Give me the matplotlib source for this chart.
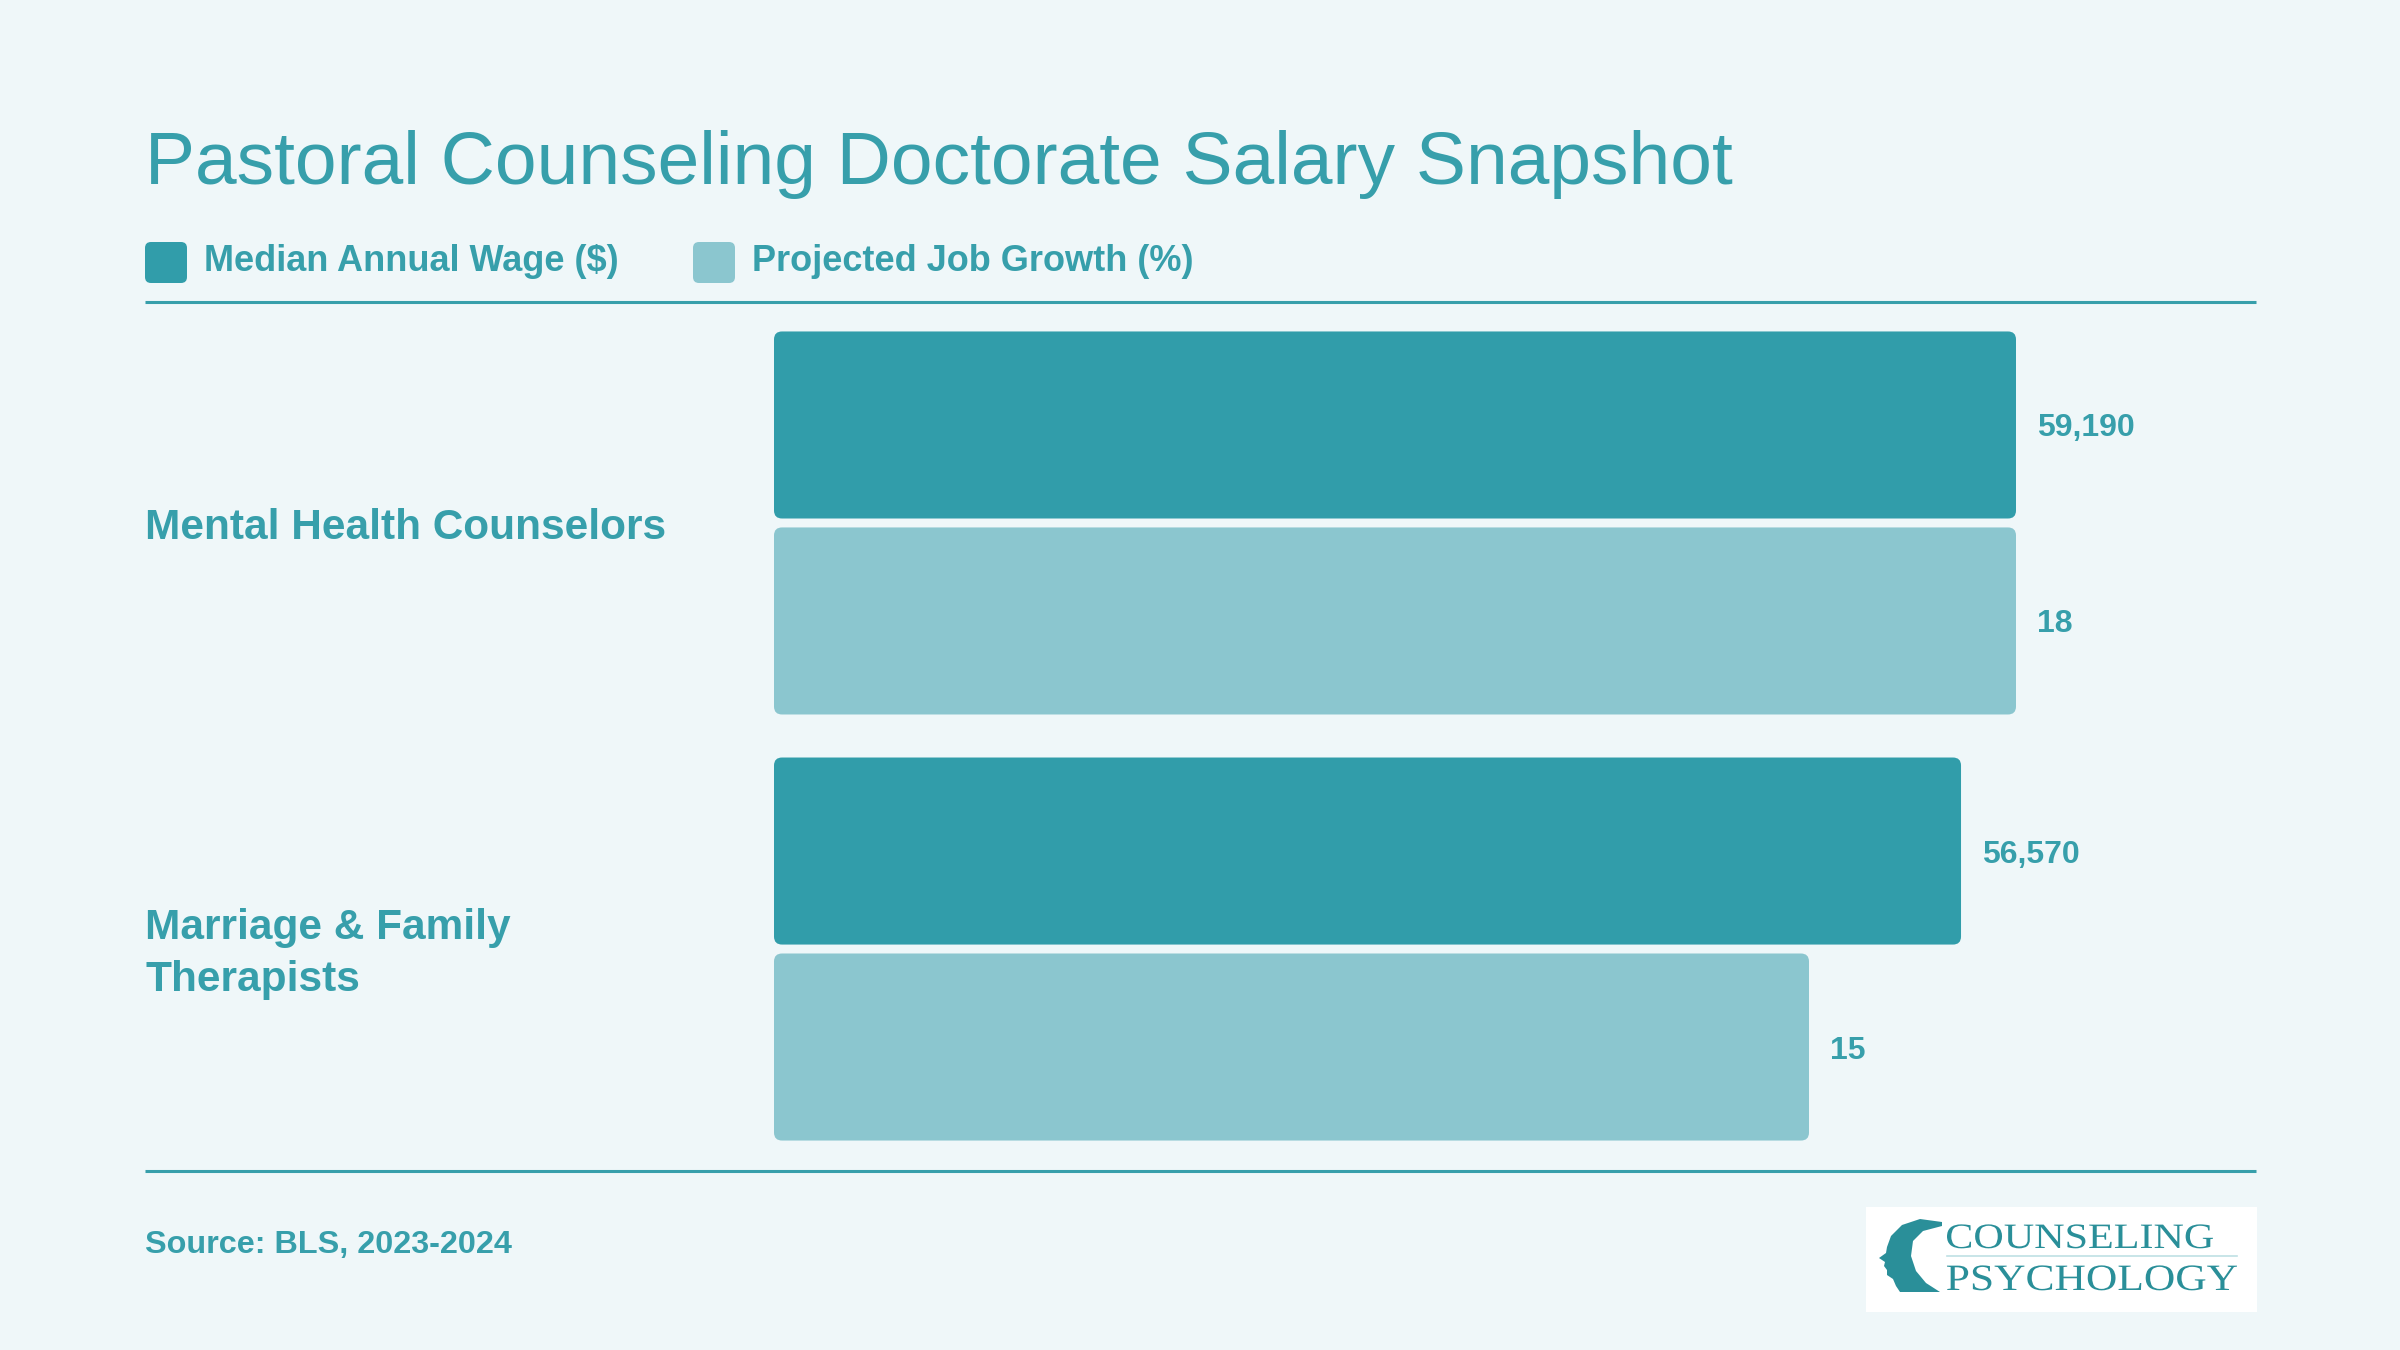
import matplotlib.pyplot as plt
from matplotlib.patches import FancyBboxPatch, Polygon, PathPatch
from matplotlib.textpath import TextPath
from matplotlib.font_manager import FontProperties
from matplotlib import transforms

plt.rcParams['font.family'] = ['Liberation Sans', 'DejaVu Sans']

# chart data
categories = ["Mental Health Counselors", "Marriage & Family\nTherapists"]
series_names = ["Median Annual Wage ($)", "Projected Job Growth (%)"]
wage = [59190, 56570]
growth = [18, 15]
title = "Pastoral Counseling Doctorate Salary Snapshot"
source = "Source: BLS, 2023-2024"

# colours
bg = "#EFF7F9"
teal = "#319DAA"
light = "#8BC6CF"
txt = "#379FAB"
colors = [teal, light]

fig = plt.figure(figsize=(24, 13.5), dpi=100, facecolor=bg)

# background axes in pixel units for title, legend, rules, footer
ax_bg = fig.add_axes([0, 0, 1, 1])
ax_bg.set_xlim(0, 2400)
ax_bg.set_ylim(1350, 0)
ax_bg.axis("off")
ax_bg.set_facecolor(bg)

ax_bg.text(145, 184, title, fontsize=54, color=txt, va="baseline", ha="left")

# legend
leg_x = [145, 693]
for i, name in enumerate(series_names):
    ax_bg.add_patch(FancyBboxPatch((leg_x[i], 242), 42, 41,
                                   boxstyle="round,pad=0,rounding_size=6",
                                   fc=colors[i], ec="none"))
    ax_bg.text(leg_x[i] + 59, 271, name, fontsize=26, fontweight="bold",
               color=txt, va="baseline", ha="left")

# rules
ax_bg.plot([145, 2256], [301.5, 301.5], color=txt, lw=2.2, solid_capstyle="butt")
ax_bg.plot([145, 2256], [1171, 1171], color=txt, lw=2.2, solid_capstyle="butt")

ax_bg.text(145, 1253, source, fontsize=23.3, fontweight="bold", color=txt,
           va="baseline", ha="left")

# logo box
ax_bg.add_patch(plt.Rectangle((1866, 1207), 391, 105, fc="white", ec="none"))
logo_c = "#2A8F99"
head = [(1942, 1222), (1920, 1219), (1902, 1225), (1891, 1236), (1887, 1247),
        (1886, 1253), (1879, 1258), (1885, 1262), (1884, 1266), (1887, 1270),
        (1887, 1275), (1893, 1279), (1896, 1286), (1900, 1292), (1940, 1292),
        (1926, 1283), (1916, 1271), (1911, 1256), (1913, 1241), (1923, 1231),
        (1942, 1226)]
ax_bg.add_patch(Polygon(head, closed=True, fc=logo_c, ec="none"))


def logo_word(word, x0, x1, cap_top, baseline):
    # stretch serif text to fill the box width
    tp = TextPath((0, 0), word, size=100, prop=FontProperties(family="Liberation Serif"))
    ext = tp.get_extents()
    sx = (x1 - x0) / ext.width
    sy = (baseline - cap_top) / ext.height
    tr = transforms.Affine2D().translate(-ext.x0, 0).scale(sx, -sy).translate(x0, baseline)
    ax_bg.add_patch(PathPatch(tp, transform=tr + ax_bg.transData, fc=logo_c, ec="none"))


logo_word("COUNSELING", 1947, 2213, 1224, 1248)
ax_bg.plot([1947, 2237], [1256, 1256], color="#BFE0E4", lw=1.2)
logo_word("PSYCHOLOGY", 1947, 2237, 1265, 1290)

# bar axes: x is fraction of each series' max
ax = fig.add_axes([774 / 2400, (1350 - 1171) / 1350, 1242 / 2400, 870 / 1350])
ax.set_xlim(0, 1)
ax.set_ylim(1.521, -0.521)
ax.axis("off")
ax.patch.set_alpha(0)

bar_h = 0.439
offset = 0.230
r = 8 / 1242
aspect = 1242 / 426
series = [wage, growth]
labels_fmt = ["{:,}", "{}"]

for s, vals in enumerate(series):
    mx = max(vals)
    for i, v in enumerate(vals):
        frac = v / mx
        yc = i + (offset if s else -offset)
        ax.add_patch(FancyBboxPatch((0, yc - bar_h / 2), frac, bar_h,
                                    boxstyle=f"round,pad=0,rounding_size={r}",
                                    mutation_aspect=aspect,
                                    fc=colors[s], ec="none"))
        t = transforms.offset_copy(ax.transData, fig=fig, y=-11.5, units="dots")
        ax.text(frac + 21 / 1242, yc, labels_fmt[s].format(v), transform=t,
                fontsize=23, fontweight="bold", color=txt,
                va="baseline", ha="left")

# category labels (baseline of last line placed below group centre)
blend = transforms.blended_transform_factory(fig.transFigure, ax.transData)
for i, cat in enumerate(categories):
    n = cat.count("\n") + 1
    t = transforms.offset_copy(blend, fig=fig, y=-(16 + (n - 1) * 25.5), units="dots")
    ax.text(145 / 2400, i, cat, transform=t, fontsize=30.5, fontweight="bold",
            color=txt, va="baseline", ha="left", linespacing=1.37)

fig.savefig("out.png", dpi=100, facecolor=bg)
